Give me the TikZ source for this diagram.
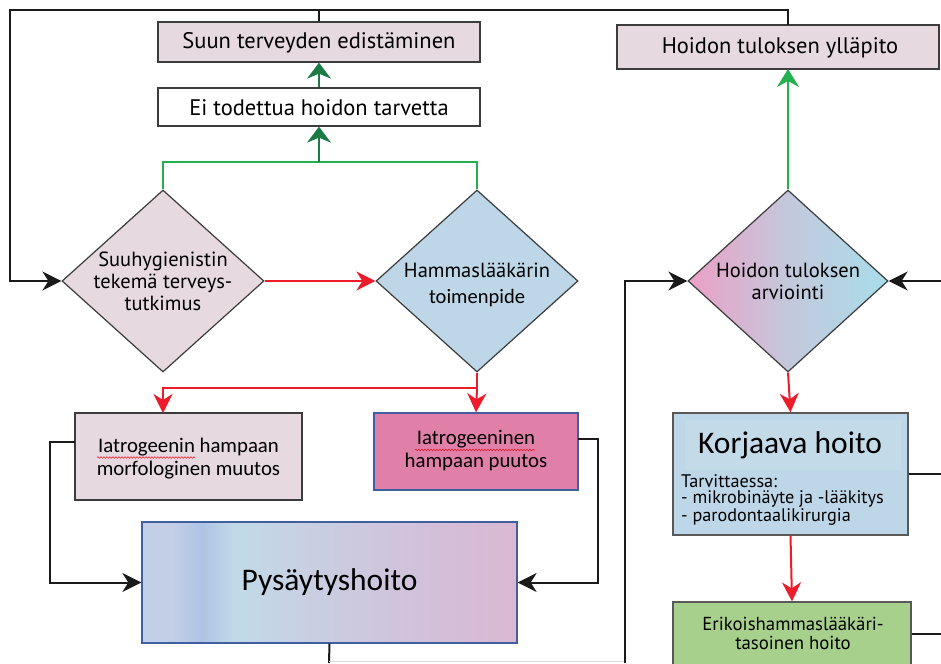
\documentclass[tikz,border=0pt]{standalone}
\usepackage{fontspec}
\setmainfont{PT Sans}
\newfontfamily\calfont{Carlito}
\usetikzlibrary{arrows.meta,shapes.geometric,decorations.pathmorphing}

\definecolor{mauve}{HTML}{E6D9E0}
\definecolor{lblue}{HTML}{BDD7E8}
\definecolor{lblueh}{HTML}{C3DAE9}
\definecolor{pinkb}{HTML}{E07FA8}
\definecolor{greenb}{HTML}{A8D08D}
\definecolor{redc}{HTML}{EC1C2B}
\definecolor{greenc}{HTML}{22B14C}
\definecolor{dgreen}{HTML}{1B7A45}
\definecolor{edgec}{HTML}{3C3C3C}
\definecolor{blueedge}{HTML}{3F5FA0}
\definecolor{blk}{HTML}{1A1A1A}
\definecolor{pa}{HTML}{C3CFE7}
\definecolor{pb}{HTML}{AFC4E4}
\definecolor{pc}{HTML}{C2DAE8}
\definecolor{pd}{HTML}{CACCE0}
\definecolor{pe}{HTML}{D3C0DA}
\definecolor{pf}{HTML}{DAB8D3}
\definecolor{da}{HTML}{EBA0C5}
\definecolor{db}{HTML}{C4C8DC}
\definecolor{dc}{HTML}{A8DDEA}

\pgfdeclarehorizontalshading{pysshade}{100bp}{color(0bp)=(pa); color(25bp)=(pa); color(29bp)=(pa); color(33bp)=(pb); color(37.5bp)=(pc); color(50bp)=(pd); color(62.5bp)=(pe); color(75bp)=(pf); color(100bp)=(pf)}
\pgfdeclarehorizontalshading{dshade}{100bp}{color(0bp)=(da); color(25bp)=(da); color(50bp)=(db); color(75bp)=(dc); color(100bp)=(dc)}

\tikzset{
  box/.style={draw=edgec, line width=1.3pt, rectangle, inner sep=0pt},
  dia/.style={draw=edgec, line width=1.2pt, diamond, inner sep=0pt, minimum width=202pt, minimum height=182pt},
  txt/.style={inner sep=0pt, align=center},
  rline/.style={draw=redc, line width=2pt},
  rarrow/.style={rline, -{Stealth[length=19pt,width=19pt,inset=6pt]}},
  gline/.style={draw=greenc, line width=2pt},
  garrow/.style={draw=dgreen, line width=2pt, -{Stealth[length=16pt,width=24pt,inset=5pt]}},
  garrowl/.style={gline, -{Stealth[length=18pt,width=22pt,inset=6pt]}},
  bline/.style={draw=blk, line width=2pt},
  barrow/.style={bline, -{Stealth[length=19pt,width=19pt,inset=6pt]}},
  squig/.style={draw=redc, line width=0.6pt, decorate, decoration={snake, segment length=3pt, amplitude=0.8pt}}
}

\begin{document}
\begin{tikzpicture}[x=1pt,y=-1pt]
\useasboundingbox (0,0) rectangle (941,663);
\clip (0,0) rectangle (941,663);
\fill[white] (0,0) rectangle (941,663);

% boxes
\node[box, fill=mauve, minimum width=322pt, minimum height=40pt] (suun) at (319,42) {};
\node[txt, font=\fontsize{22.5}{24}\selectfont] (suunt) at (319,43) {Suun terveyden edistäminen};
\node[box, fill=white, minimum width=322pt, minimum height=38pt] (ei) at (319,107) {};
\node[txt, font=\fontsize{22.5}{24}\selectfont] (eit) at (319,108) {Ei todettua hoidon tarvetta};
\node[box, fill=mauve, minimum width=322pt, minimum height=44pt] (yll) at (778,47) {};
\node[txt, font=\fontsize{22.5}{24}\selectfont] (yllt) at (780,48) {Hoidon tuloksen ylläpito};

% diamonds
\node[dia, fill=mauve] (d1) at (163,281) {};
\node[txt, font=\fontsize{20.5}{22}\selectfont] (d1t) at (163,281) {Suuhygienistin\\tekemä terveys-\\tutkimus};
\node[dia, fill=lblue] (d2) at (477,281) {};
\node[txt, font=\fontsize{20.5}{22}\selectfont] (d2a) at (477,270) {Hammaslääkärin};
\node[txt, font=\calfont\fontsize{20.5}{22}\selectfont] (d2b) at (477,298) {toimenpide};
\node[dia, shading=dshade, minimum width=200pt] (d3) at (788,281) {};
\node[txt, font=\fontsize{20.5}{22}\selectfont] (d3t) at (788,281) {Hoidon tuloksen\\arviointi};

% lower boxes
\node[box, fill=mauve, minimum width=227pt, minimum height=87pt] (morf) at (188.5,456.5) {};
\node[txt, font=\calfont\fontsize{20.8}{23}\selectfont] (morft) at (188.5,459) {Iatrogeenin hampaan\\morfologinen muutos};
\draw[squig] (97,457.5) -- (195,457.5);
\node[box, draw=blueedge, fill=pinkb, minimum width=204pt, minimum height=77pt] (puu) at (476,451.5) {};
\node[txt, font=\calfont\fontsize{20.8}{23}\selectfont] (puut) at (476,451) {Iatrogeeninen\\hampaan puutos};
\draw[squig] (415,450) -- (535,450);
\node[box, draw=blueedge, shading=pysshade, minimum width=375pt, minimum height=121pt] (pys) at (329.5,582.5) {};
\node[txt, font=\calfont\fontsize{31.5}{34}\selectfont] (pyst) at (329.5,582) {Pysäytyshoito};

\node[box, draw=gray!70!black, fill=lblue, minimum width=235pt, minimum height=122pt] (korj) at (790.5,474) {};
\fill[lblueh] (685,420) rectangle (901,470);
\node[txt, font=\calfont\fontsize{31.5}{34}\selectfont] (korjt) at (790,445) {Korjaava hoito};
\node[txt, anchor=north west, align=left, font=\fontsize{18.2}{16.5}\selectfont] (korjs) at (681,474) {Tarvittaessa:\\- mikrobinäyte ja -lääkitys\\- parodontaalikirurgia};
\node[box, draw=gray!70!black, fill=greenb, minimum width=238pt, minimum height=80pt] (erik) at (792,642) {};
\node[txt, font=\fontsize{18.8}{19}\selectfont] (erikt) at (793,633) {Erikoishammaslääkäri-\\tasoinen hoito};

% coordinates
\coordinate (gj) at (319,162);
\coordinate (rj) at (477,388);
\coordinate (mt) at (163,413);
\coordinate (tl) at (10,10);
\coordinate (yt) at (788,25);
\coordinate (yb) at (788,69);
\coordinate (ml) at (75,442);
\coordinate (mlc) at (50,442);
\coordinate (pr) at (578,439);
\coordinate (prc) at (598,439);
\coordinate (pysb) at (329,663);
\coordinate (rb) at (625,663);
\coordinate (gb1) at (329,661.5);
\coordinate (gb2) at (625,661.5);
\coordinate (re) at (943,281);
\coordinate (ke) at (943,474);
\coordinate (ee) at (943,634);

% green connectors
\draw[gline] (d1.north) |- (gj) -| (d2.north);
\draw[garrow] (gj) -- (ei.south);
\draw[garrow] (ei.north) -- (suun.south);
\draw[garrowl] (d3.north) -- (yb);

% red connectors
\draw[rarrow] (d1.east) -- (d2.west);
\draw[rline] (d2.south) -- (rj);
\draw[rarrow] (rj) -- (puu.north);
\draw[rarrow] (rj) -| (mt);
\draw[rarrow] (d3.south) -- (korj.north);
\draw[rarrow] (korj.south) -- (erik.north);

% black connectors
\draw[bline] (suun.north) -- (suun.north |- tl);
\draw[barrow] (yt) |- (tl) |- (d1.west);
\draw[barrow] (ml) -- (mlc) |- (pys.west);
\draw[barrow] (pr) -- (prc) |- (pys.east);
\draw[bline] (pys.south) -- (pysb);
\draw[draw=gray!30, line width=1pt] (gb1) -- (gb2);
\draw[barrow] (rb) |- (d3.west);
\draw[barrow] (re) -- (d3.east);
\draw[bline] (korj.east) -- (ke);
\draw[bline] (erik.east |- ee) -- (ee);
\end{tikzpicture}
\end{document}
